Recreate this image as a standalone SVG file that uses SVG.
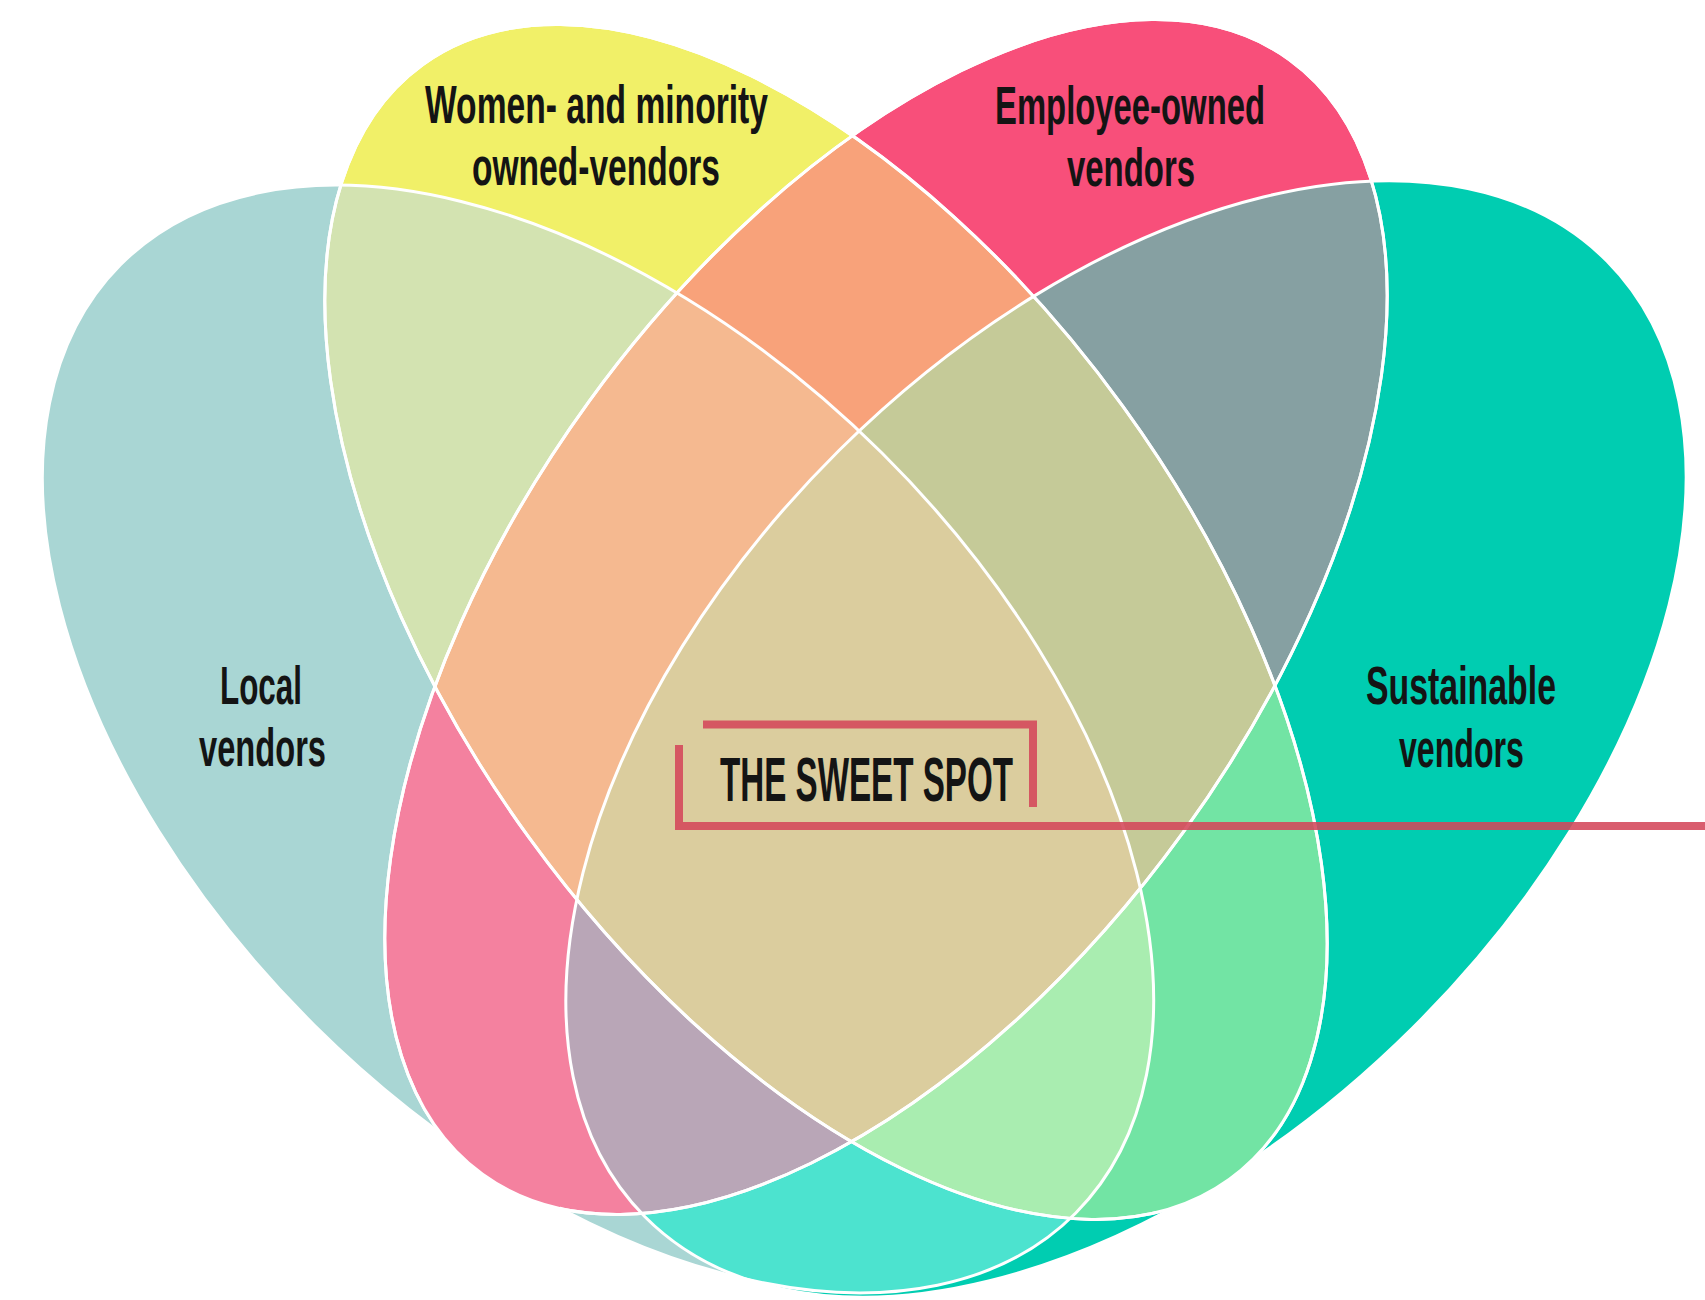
<svg xmlns="http://www.w3.org/2000/svg" xmlns:xlink="http://www.w3.org/1999/xlink" width="1705" height="1300" viewBox="0 0 1705 1300">
<style>
.lbl{font-family:"Liberation Sans",Arial,"DejaVu Sans",sans-serif;font-weight:bold;fill:#141414;}
.big{font-size:53px;}
.spot{font-size:63px;}
.outline{fill:none;stroke:#ffffff;stroke-width:3;}
.conn{fill:none;stroke:#d4475a;stroke-width:8;stroke-opacity:0.88;stroke-linejoin:miter;}
</style>
<defs>
<ellipse id="eL" cx="598" cy="739" rx="673" ry="403" transform="rotate(44.8 598 739)"/>
<ellipse id="eS" cx="1126" cy="739" rx="678" ry="407" transform="rotate(-44.8 1126 739)"/>
<ellipse id="eY" cx="826" cy="622" rx="688" ry="367" transform="rotate(54.1 826 622)"/>
<ellipse id="eP" cx="886" cy="617" rx="688" ry="367" transform="rotate(-54.1 886 617)"/>
<clipPath id="cL"><ellipse cx="598" cy="739" rx="673" ry="403" transform="rotate(44.8 598 739)"/></clipPath>
<clipPath id="cS"><ellipse cx="1126" cy="739" rx="678" ry="407" transform="rotate(-44.8 1126 739)"/></clipPath>
<clipPath id="cY"><ellipse cx="826" cy="622" rx="688" ry="367" transform="rotate(54.1 826 622)"/></clipPath>
<clipPath id="cP"><ellipse cx="886" cy="617" rx="688" ry="367" transform="rotate(-54.1 886 617)"/></clipPath>
</defs>
<rect width="1705" height="1300" fill="#ffffff"/>
<g id="regions">
<g id="singles">
<use href="#eL" fill="#a9d6d4"/>
<use href="#eS" fill="#00cdb1"/>
<use href="#eY" fill="#f1f068"/>
<use href="#eP" fill="#f84f7a"/>
</g>
<g id="pairs">
<g clip-path="url(#cL)"><use href="#eY" fill="#d3e3b1"/></g>
<g clip-path="url(#cL)"><use href="#eP" fill="#f4819f"/></g>
<g clip-path="url(#cL)"><use href="#eS" fill="#4ce3cf"/></g>
<g clip-path="url(#cY)"><use href="#eP" fill="#f8a27a"/></g>
<g clip-path="url(#cY)"><use href="#eS" fill="#72e4a4"/></g>
<g clip-path="url(#cP)"><use href="#eS" fill="#86a0a2"/></g>
</g>
<g id="triples">
<g clip-path="url(#cL)"><g clip-path="url(#cY)"><use href="#eP" fill="#f5b990"/></g></g>
<g clip-path="url(#cL)"><g clip-path="url(#cY)"><use href="#eS" fill="#a9edb0"/></g></g>
<g clip-path="url(#cL)"><g clip-path="url(#cP)"><use href="#eS" fill="#b9a6b7"/></g></g>
<g clip-path="url(#cY)"><g clip-path="url(#cP)"><use href="#eS" fill="#c5ca98"/></g></g>
</g>
<g id="sweet-spot-region">
<g clip-path="url(#cL)"><g clip-path="url(#cY)"><g clip-path="url(#cP)"><use href="#eS" fill="#dbcd9e"/></g></g></g>
</g>
</g>
<g id="outlines">
<use href="#eL" class="outline"/>
<use href="#eS" class="outline"/>
<use href="#eY" class="outline"/>
<use href="#eP" class="outline"/>
</g>
<g id="edge-tips">
<g clip-path="url(#cP)"><rect x="360" y="1100" width="200" height="140" fill="#f4819f"/></g>
<g clip-path="url(#cY)"><rect x="1155" y="1080" width="200" height="170" fill="#72e4a4"/></g>
<use href="#eP" class="outline"/>
<use href="#eY" class="outline"/>
</g>
<g id="node-women">
<text class="lbl big" x="425" y="123" textLength="343" lengthAdjust="spacingAndGlyphs">Women- and minority</text>
<text class="lbl big" x="472" y="185" textLength="248" lengthAdjust="spacingAndGlyphs">owned-vendors</text>
</g>
<g id="node-employee">
<text class="lbl big" x="995" y="124" textLength="270" lengthAdjust="spacingAndGlyphs">Employee-owned</text>
<text class="lbl big" x="1067" y="186" textLength="128" lengthAdjust="spacingAndGlyphs">vendors</text>
</g>
<g id="node-local">
<text class="lbl big" x="220" y="704" textLength="82" lengthAdjust="spacingAndGlyphs">Local</text>
<text class="lbl big" x="199" y="766" textLength="127" lengthAdjust="spacingAndGlyphs">vendors</text>
</g>
<g id="node-sustainable">
<text class="lbl big" x="1366" y="704" textLength="190" lengthAdjust="spacingAndGlyphs">Sustainable</text>
<text class="lbl big" x="1399" y="767" textLength="125" lengthAdjust="spacingAndGlyphs">vendors</text>
</g>
<g id="node-sweet-spot">
<text class="lbl spot" x="720" y="801" textLength="293" lengthAdjust="spacingAndGlyphs">THE SWEET SPOT</text>
</g>
<g id="connectors">
<path class="conn" d="M703,724.5 H1033 V807"/>
<path class="conn" d="M679,745 V826 H1705"/>
</g>
</svg>
